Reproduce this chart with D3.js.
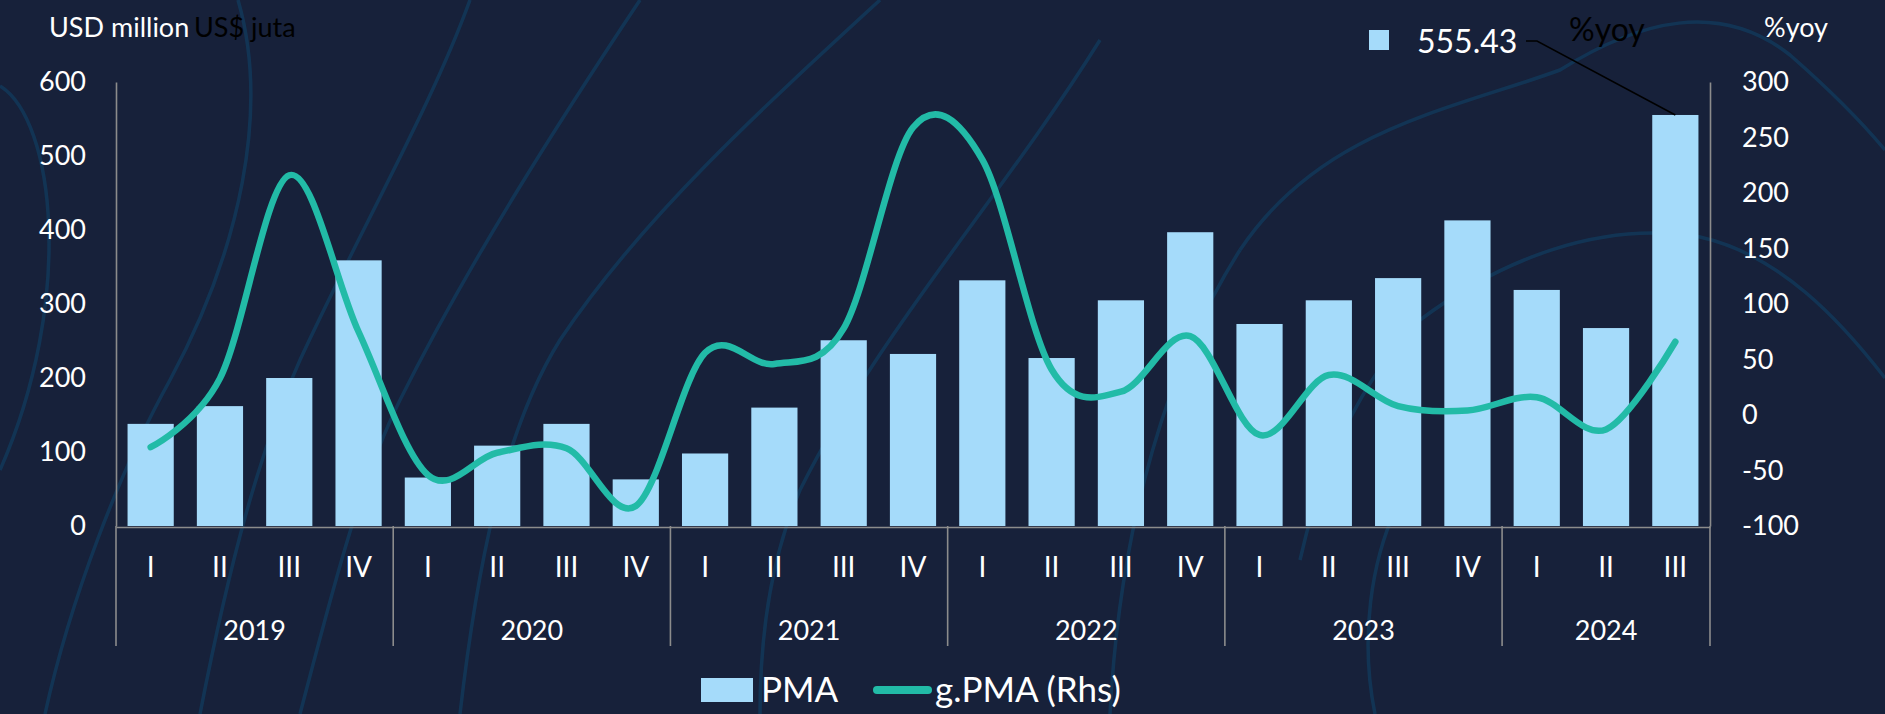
<!DOCTYPE html>
<html>
<head>
<meta charset="utf-8">
<script src="https://cdn.jsdelivr.net/npm/d3@7"></script>
<style>
  html, body { margin: 0; padding: 0; background: #17213a; }
  svg { display: block; font-family: Lato, "Open Sans", sans-serif; }
</style>
</head>
<body>
<svg id="chart" width="1885" height="714"></svg>
<script>
// Quarterly realised foreign direct investment (PMA) and its yoy growth
const quarterLabels = ["I","II","III","IV","I","II","III","IV","I","II","III","IV",
                       "I","II","III","IV","I","II","III","IV","I","II","III"];
const yearLabels = ["2019","2020","2021","2022","2023","2024"];
const quartersPerYear = [4, 4, 4, 4, 4, 3];
const pma = [138, 162, 200, 359, 65.5, 108.6, 138, 63, 98, 160, 251, 232.5,
             332, 227, 305, 397, 273, 305, 335, 413, 319, 267.5, 555.43];
const gPma = [-29, 33, 216, 75, -54, -34, -30, -82, 56, 46, 78, 259,
              230, 41, 21, 71, -18, 36, 8, 4, 16, -13, 66];
const leftTicks = [0, 100, 200, 300, 400, 500, 600];
const rightTicks = [-100, -50, 0, 50, 100, 150, 200, 250, 300];

const svg = d3.select("#chart");
const W = 1885, H = 714;
const plot = { left: 116, right: 1710, top: 82, bottom: 526 };

const barColor = "#a5dbfa";
const lineColor = "#22bba7";
const axisColor = "#8c8c8c";

svg.append("rect").attr("width", W).attr("height", H).attr("fill", "#17213a");

// faint decorative swirls in the background
const swirls = [
  "M0,86 C55,120 75,300 0,470",
  "M238,0 C270,110 240,250 170,380 C120,470 70,600 45,714",
  "M470,0 C430,110 360,230 300,360 C260,450 230,560 200,714",
  "M640,0 C560,120 470,260 400,400 C360,480 330,600 300,714",
  "M880,0 C760,110 640,220 560,340 C510,420 480,540 460,714",
  "M1100,40 C1000,200 880,330 800,490 C770,560 760,640 760,714",
  "M1240,250 C1320,130 1450,110 1560,70 C1640,20 1720,0 1790,55 C1830,90 1860,120 1885,150",
  "M1240,250 C1170,360 1120,520 1110,714",
  "M1420,320 C1500,260 1600,220 1700,237 C1780,255 1840,320 1885,378",
  "M1420,320 C1360,380 1320,470 1300,560",
  "M1375,714 C1360,640 1370,560 1400,500"
];
svg.append("g").attr("fill", "none").attr("stroke", "#12395b").attr("stroke-width", 3.5)
  .attr("stroke-opacity", 0.8)
  .selectAll("path").data(swirls).join("path").attr("d", d => d);

// scales
const x = d3.scaleBand().domain(d3.range(pma.length))
  .range([plot.left, plot.right]).paddingInner(1/3).paddingOuter(1/6);
const y1 = d3.scaleLinear().domain([0, 600]).range([plot.bottom, plot.top]);
const y2 = d3.scaleLinear().domain([-100, 300]).range([plot.bottom, plot.top]);

// bars
svg.append("g").selectAll("rect").data(pma).join("rect")
  .attr("x", (d, i) => x(i))
  .attr("y", d => y1(d))
  .attr("width", x.bandwidth())
  .attr("height", d => y1(0) - y1(d))
  .attr("fill", barColor);

// growth line (right axis), smoothed
const line = d3.line()
  .x((d, i) => x(i) + x.bandwidth() / 2)
  .y(d => y2(d))
  .curve(d3.curveCardinal.tension(0));
svg.append("path").datum(gPma)
  .attr("d", line)
  .attr("fill", "none")
  .attr("stroke", lineColor)
  .attr("stroke-width", 6.5)
  .attr("stroke-linecap", "round")
  .attr("stroke-linejoin", "round");

// axes
const plainNum = d => String(d);
function styleAxis(g) {
  g.select(".domain").attr("stroke", axisColor).attr("stroke-width", 1.6);
  g.selectAll(".tick line").remove();
  g.selectAll("text").attr("fill", "#ffffff").attr("font-size", 27)
    .attr("font-family", "Lato, 'Open Sans', sans-serif");
}
svg.append("g").attr("transform", `translate(${plot.left},0)`)
  .call(d3.axisLeft(y1).tickValues(leftTicks).tickFormat(plainNum).tickSize(0).tickPadding(30))
  .call(styleAxis);
svg.append("g").attr("transform", `translate(${plot.right},0)`)
  .call(d3.axisRight(y2).tickValues(rightTicks).tickFormat(plainNum).tickSize(0).tickPadding(32))
  .call(styleAxis);
const xAxis = svg.append("g").attr("transform", `translate(0,${plot.bottom + 1})`)
  .call(d3.axisBottom(x).tickFormat(i => quarterLabels[i]).tickSize(0).tickPadding(30))
  .call(styleAxis);
xAxis.selectAll("text").attr("font-size", 28);

// year groups with separators
const gap = (x.step() - x.bandwidth()) / 2;
let start = 0;
const groups = yearLabels.map((yr, k) => {
  const g = { year: yr, first: start, last: start + quartersPerYear[k] - 1 };
  start += quartersPerYear[k];
  return g;
});
const bounds = groups.map(g => x(g.first) - gap).concat([x(groups[groups.length - 1].last) + x.bandwidth() + gap]);
svg.append("g").selectAll("line").data(bounds).join("line")
  .attr("x1", d => d).attr("x2", d => d)
  .attr("y1", plot.bottom).attr("y2", 646)
  .attr("stroke", axisColor).attr("stroke-width", 1.6);
svg.append("g").selectAll("text").data(groups).join("text")
  .attr("x", g => (x(g.first) - gap + x(g.last) + x.bandwidth() + gap) / 2)
  .attr("y", 640)
  .attr("text-anchor", "middle")
  .attr("fill", "#ffffff").attr("font-size", 27)
  .text(g => g.year);

// axis titles
svg.append("text").attr("x", 49).attr("y", 37).attr("fill", "#ffffff")
  .attr("font-size", 27).text("USD million");
svg.append("text").attr("x", 194).attr("y", 37).attr("fill", "#000000")
  .attr("font-size", 27).text("US$ juta");
svg.append("text").attr("x", 1764).attr("y", 37).attr("fill", "#ffffff")
  .attr("font-size", 27).text("%yoy");
svg.append("text").attr("x", 1569).attr("y", 41).attr("fill", "#000000")
  .attr("font-size", 32).text("%yoy");

// value callout for the latest quarter
const lastI = pma.length - 1;
const lastVal = pma[lastI];
svg.append("rect").attr("x", 1369).attr("y", 30).attr("width", 20).attr("height", 20)
  .attr("fill", barColor);
svg.append("text").attr("x", 1417).attr("y", 53).attr("fill", "#ffffff")
  .attr("font-size", 32).text(d3.format(".2f")(lastVal));
svg.append("path")
  .attr("d", `M1526,41 L1537,41 L${x(lastI) + x.bandwidth() / 2},${y1(lastVal)}`)
  .attr("fill", "none").attr("stroke", "#000000").attr("stroke-width", 1.5);

// legend
const lg = svg.append("g");
lg.append("rect").attr("x", 701).attr("y", 678).attr("width", 52).attr("height", 24)
  .attr("fill", barColor);
lg.append("text").attr("x", 761).attr("y", 702).attr("fill", "#ffffff")
  .attr("font-size", 35).text("PMA");
lg.append("line").attr("x1", 877).attr("x2", 928).attr("y1", 690).attr("y2", 690)
  .attr("stroke", lineColor).attr("stroke-width", 8).attr("stroke-linecap", "round");
lg.append("text").attr("x", 935).attr("y", 702).attr("fill", "#ffffff")
  .attr("font-size", 35).text("g.PMA (Rhs)");
</script>
</body>
</html>
